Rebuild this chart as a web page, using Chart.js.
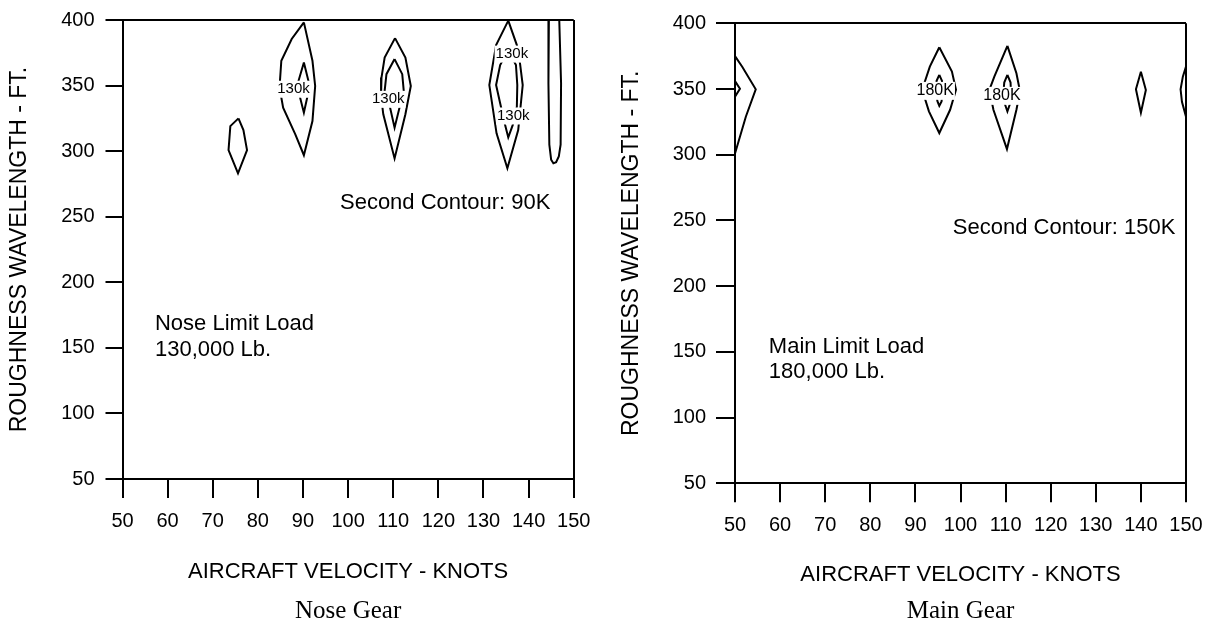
<!doctype html>
<html lang="en">
<head>
<meta charset="utf-8">
<title>Limit Load Contours - Nose and Main Gear</title>
<script src="https://cdn.jsdelivr.net/npm/chart.js"></script>
<style>
  html, body { margin: 0; padding: 0; background: #fff; }
  .panel { position: absolute; top: 0; width: 604px; height: 627px; }
  #nosePanel { left: 0; }
  #mainPanel { left: 604px; }
</style>
</head>
<body>
<div class="panel" id="nosePanel"><canvas id="noseChart" width="604" height="627"></canvas></div>
<div class="panel" id="mainPanel"><canvas id="mainChart" width="604" height="627"></canvas></div>
<script>
// axis ticks
const velocityTicks = [50, 60, 70, 80, 90, 100, 110, 120, 130, 140, 150];
const wavelengthTicks = [50, 100, 150, 200, 250, 300, 350, 400];

// nose gear contours, [velocity knots, wavelength ft]
const noseLobe75 = [[75.7, 325], [73.9, 319.1], [73.5, 300.8], [75.6, 283.1], [77.6, 300.8], [76.8, 316.1], [75.7, 325]];
const noseOuter90 = [[90.2, 398.2], [87.5, 385.5], [85.2, 368.9], [84.8, 348.5], [85.6, 333.2], [88.3, 312.8],
  [90.2, 296.9], [92.1, 323], [92.7, 349.7], [92.1, 368.9], [90.2, 398.2]];
const noseInner90 = [[90.2, 367.6], [88.9, 352.3], [88.9, 346], [89.4, 340.3], [90.2, 329.3], [90.9, 340.3],
  [91.3, 346], [91.3, 352.3], [90.2, 367.6]];
const noseOuter110 = [[110.4, 386.2], [108.1, 371.4], [107.4, 356.1], [107.3, 342], [107.8, 328.1], [110.3, 294.4],
  [112.7, 328.1], [113.9, 349.7], [112.7, 371.4], [110.4, 386.2]];
const noseInner110 = [[110.3, 370.2], [108.5, 358.7], [108.1, 345.9], [109.3, 333.2], [110.3, 317.9], [111.4, 333.2],
  [112.4, 343.4], [112, 358.7], [110.3, 370.2]];
const noseOuter135 = [[135.5, 399.5], [132.8, 380.9], [131.3, 350.4], [132.9, 313.6], [135.3, 286.9], [137.7, 316.1],
  [138.7, 350.4], [138.1, 367], [137.4, 380.9], [135.5, 399.5]];
const noseInner135 = [[135.5, 377], [133.7, 365.7], [132.8, 350.4], [133.7, 336.5], [134.8, 320], [135.5, 310.5],
  [136.5, 320], [137.4, 333.9], [137.5, 350.4], [137.2, 365.7], [135.5, 377]];
const noseEdge145 = [[144.5, 400], [144.4, 351.7], [144.6, 305], [145, 293.5], [145.5, 290.7], [146.1, 291.5],
  [146.7, 296], [147.1, 305], [147.2, 351.7], [146.8, 400]];

// main gear contours
const mainEdge50 = [[50, 375], [51.6, 367], [54.6, 349.8], [52.4, 328.9], [50, 301]];
const mainEdge50Inner = [[50, 356], [51.1, 350.2], [50, 344.1]];
const mainOuter95 = [[95.3, 381.8], [93.2, 367], [91.5, 349.4], [93, 333], [95.3, 316.5], [97.7, 334.2],
  [99, 349.4], [98.1, 363.3], [95.3, 381.8]];
const mainInner95 = [[95.3, 360.8], [94.7, 356.2], [94.5, 348], [94.9, 340.5], [95.3, 337.2], [95.8, 340.5],
  [96, 348], [95.9, 356.2], [95.3, 360.8]];
const mainOuter110 = [[110.4, 382.8], [107.5, 359.5], [106.4, 349.4], [107.3, 334.2], [110.3, 304.3], [112.4, 334.2],
  [113.2, 348.1], [112.4, 362], [110.4, 382.8]];
const mainInner110 = [[110.4, 360.8], [109.7, 354.9], [109.5, 346], [109.9, 338], [110.4, 332.9], [110.9, 338],
  [111.2, 346], [111.1, 354.9], [110.4, 360.8]];
const mainLobe140 = [[140, 363.2], [138.9, 349.8], [140, 332], [141.1, 349.2], [140, 363.2]];
const mainEdge150 = [[150, 367], [149.3, 359.4], [148.8, 349.8], [149.1, 340.3], [150, 329]];

// contour value tags and notes, placed in data units
const noseTags = [
  { x: 87.9, y: 347.2, text: '130k' },
  { x: 108.9, y: 339.5, text: '130k' },
  { x: 136.3, y: 374, text: '130k' },
  { x: 136.6, y: 326.8, text: '130k' }
];
const mainTags = [
  { x: 94.4, y: 348.6, text: '180K' },
  { x: 109.2, y: 344.8, text: '180K' }
];
const noseNotes = [
  { x: 98.2, y: 260.4, text: 'Second Contour: 90K' },
  { x: 57.2, y: 167.9, text: 'Nose Limit Load' },
  { x: 57.2, y: 148.3, text: '130,000 Lb.' }
];
const mainNotes = [
  { x: 98.3, y: 244, text: 'Second Contour: 150K' },
  { x: 57.5, y: 153.9, text: 'Main Limit Load' },
  { x: 57.5, y: 134.9, text: '180,000 Lb.' }
];

const SANS = '"Liberation Sans", Arial, Helvetica, sans-serif';
const SERIF = '"Liberation Serif", "Times New Roman", serif';
const CANVAS_H = 627;
const CAPTION_SIZE = 25;
const CAPTION_H = CAPTION_SIZE * 1.2;

function toLine(points) {
  return {
    data: points.map(([x, y]) => ({ x, y })),
    showLine: true,
    borderColor: '#000',
    borderWidth: 2,
    pointRadius: 0,
    tension: 0,
    fill: false
  };
}

// draws the contour tags (white box breaks the line) and the free notes
function notesPlugin(tags, notes, tagSize) {
  return {
    id: 'notes',
    afterDatasetsDraw(chart) {
      const { ctx, scales: { x, y } } = chart;
      ctx.save();
      ctx.textBaseline = 'middle';
      ctx.font = tagSize + 'px ' + SANS;
      ctx.textAlign = 'center';
      tags.forEach(t => {
        const px = x.getPixelForValue(t.x);
        const py = y.getPixelForValue(t.y);
        const w = ctx.measureText(t.text).width;
        ctx.fillStyle = '#fff';
        ctx.fillRect(px - w / 2 - 1, py - tagSize / 2 - 1, w + 2, tagSize + 2);
        ctx.fillStyle = '#000';
        ctx.fillText(t.text, px, py);
      });
      ctx.font = '22px ' + SANS;
      ctx.textAlign = 'left';
      ctx.fillStyle = '#000';
      notes.forEach(n => {
        ctx.fillText(n.text, x.getPixelForValue(n.x), y.getPixelForValue(n.y));
      });
      ctx.restore();
    }
  };
}

function buildGearChart(id, g) {
  const xHeight = CANVAS_H - 1 - CAPTION_H - g.bottom;
  return new Chart(document.getElementById(id), {
    type: 'scatter',
    data: { datasets: g.lines.map(toLine) },
    options: {
      responsive: false,
      animation: false,
      layout: { padding: { left: 0, top: g.top, right: 604 - g.right, bottom: 1 } },
      plugins: {
        legend: { display: false },
        tooltip: { enabled: false },
        title: {
          display: true,
          text: g.caption,
          position: 'bottom',
          fullSize: false,
          color: '#000',
          padding: 0,
          font: { family: SERIF, size: CAPTION_SIZE, weight: 'normal' }
        }
      },
      scales: {
        x: {
          type: 'linear',
          min: 50,
          max: 150,
          afterBuildTicks: s => { s.ticks = velocityTicks.map(v => ({ value: v })); },
          afterFit: s => { s.height = xHeight; s.paddingLeft = 0; s.paddingRight = 0; },
          ticks: { color: '#000', padding: 11, maxRotation: 0, autoSkip: false, font: { family: SANS, size: 20 } },
          grid: {
            color: c => (c.tick && c.tick.value === 150 ? '#000' : 'rgba(0,0,0,0)'),
            lineWidth: 2,
            tickColor: '#000',
            tickLength: 19,
            tickWidth: 2
          },
          border: { display: true, color: '#000', width: 2 },
          title: {
            display: true,
            text: 'AIRCRAFT VELOCITY - KNOTS',
            color: '#000',
            padding: { top: 0, bottom: g.xTitlePad },
            font: { family: SANS, size: 22 }
          }
        },
        y: {
          type: 'linear',
          min: 50,
          max: 400,
          afterBuildTicks: s => { s.ticks = wavelengthTicks.map(v => ({ value: v })); },
          afterFit: s => { s.width = g.left; s.paddingTop = 0; s.paddingBottom = 0; },
          ticks: { color: '#000', padding: g.yTickPad, font: { family: SANS, size: 20 } },
          grid: {
            color: c => (c.tick && c.tick.value === 400 ? '#000' : 'rgba(0,0,0,0)'),
            lineWidth: 2,
            tickColor: '#000',
            tickLength: g.yTickLen,
            tickWidth: 2
          },
          border: { display: true, color: '#000', width: 2 },
          title: {
            display: true,
            text: 'ROUGHNESS WAVELENGTH - FT.',
            color: '#000',
            padding: { top: g.yTitlePad, bottom: 0 },
            font: { family: SANS, size: 23 }
          }
        }
      }
    },
    plugins: [notesPlugin(g.tags, g.notes, g.tagSize)]
  });
}

buildGearChart('noseChart', {
  lines: [noseLobe75, noseOuter90, noseInner90, noseOuter110, noseInner110, noseOuter135, noseInner135, noseEdge145],
  tags: noseTags,
  notes: noseNotes,
  caption: 'Nose Gear',
  tagSize: 15,
  left: 122.5, right: 573.7, top: 20, bottom: 479,
  yTickLen: 17, yTickPad: 11, xTitlePad: 11.1, yTitlePad: 6.2
});

buildGearChart('mainChart', {
  lines: [mainEdge50, mainEdge50Inner, mainOuter95, mainInner95, mainOuter110, mainInner110, mainLobe140, mainEdge150],
  tags: mainTags,
  notes: mainNotes,
  caption: 'Main Gear',
  tagSize: 16,
  left: 131, right: 582, top: 23.3, bottom: 483.3,
  yTickLen: 19, yTickPad: 10, xTitlePad: 7.8, yTitlePad: 14.2
});
</script>
</body>
</html>
